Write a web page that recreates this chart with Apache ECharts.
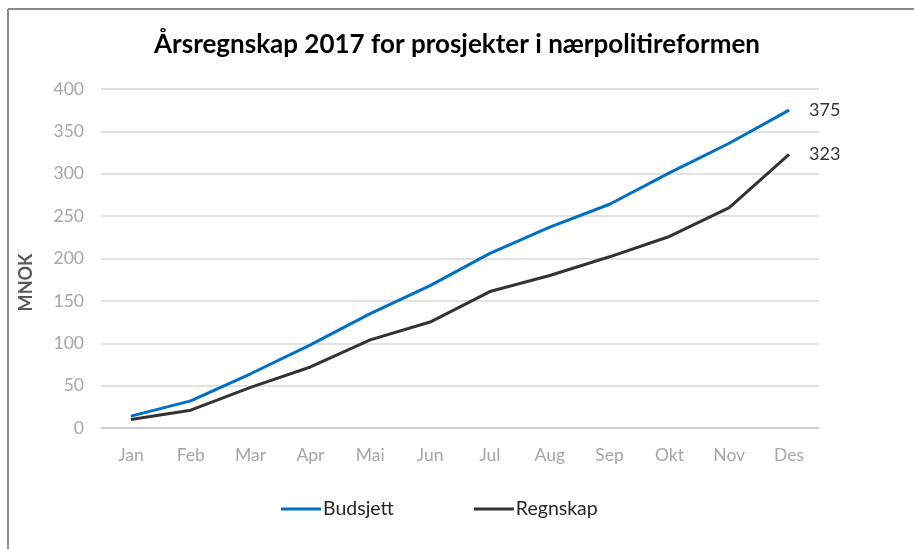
<!DOCTYPE html>
<html>
<head>
<meta charset="utf-8">
<script src="https://cdn.jsdelivr.net/npm/echarts@6/dist/echarts.min.js"></script>
<style>
  html, body { margin: 0; padding: 0; background: #fff; }
  #main { width: 914px; height: 549px; }
</style>
</head>
<body>
<div id="main"></div>
<script>
// data
var months = ['Jan', 'Feb', 'Mar', 'Apr', 'Mai', 'Jun', 'Jul', 'Aug', 'Sep', 'Okt', 'Nov', 'Des'];
var budsjett = [14, 32, 64, 98, 135, 168, 206, 237, 264, 301, 336, 375];
var regnskap = [10, 21, 48, 72, 104, 125, 161, 180, 202, 226, 260, 323];

var chart = echarts.init(document.getElementById('main'));
var font = 'Lato, "Open Sans", sans-serif';

var option = {
    animation: false,
    textStyle: { fontFamily: font },
    title: {
        text: 'Årsregnskap 2017 for prosjekter i nærpolitireformen',
        left: 'center',
        top: 27,
        textStyle: { fontSize: 26, fontWeight: 'bold', color: '#000', fontFamily: font }
    },
    grid: { left: 101, right: 95, top: 89, bottom: 121 },
    legend: {
        top: 494,
        left: 276,
        itemGap: 80,
        itemWidth: 40,
        itemHeight: 3,
        icon: 'rect',
        textStyle: { fontSize: 19.5, color: '#262626', fontFamily: font, padding: [0, 0, 0, -3] },
        data: ['Budsjett', 'Regnskap']
    },
    xAxis: {
        type: 'category',
        data: months,
        boundaryGap: true,
        axisLine: { lineStyle: { color: '#d0d0d0', width: 2 } },
        axisTick: { show: false },
        axisLabel: { color: '#a6a6a6', fontSize: 17.5, margin: 18 }
    },
    yAxis: {
        type: 'value',
        min: 0,
        max: 400,
        interval: 50,
        name: 'MNOK',
        nameLocation: 'middle',
        nameGap: 66,
        nameTextStyle: { color: '#595959', fontSize: 18, fontWeight: 'bold', padding: [0, 48, 0, 0] },
        axisLine: { show: false },
        axisTick: { show: false },
        axisLabel: { color: '#a6a6a6', fontSize: 17.5, margin: 17 },
        splitLine: { lineStyle: { color: '#d9d9d9', width: 1.5 } }
    },
    series: [
        {
            name: 'Budsjett',
            type: 'line',
            data: budsjett,
            symbol: 'none',
            color: '#0070c0',
            lineStyle: { width: 3, color: '#0070c0' },
            endLabel: {
                show: true,
                formatter: '{c}',
                distance: 20,
                color: '#333333',
                fontSize: 18
            }
        },
        {
            name: 'Regnskap',
            type: 'line',
            data: regnskap,
            symbol: 'none',
            color: '#333333',
            lineStyle: { width: 3, color: '#333333' },
            endLabel: {
                show: true,
                formatter: '{c}',
                distance: 20,
                color: '#333333',
                fontSize: 18
            }
        }
    ],
    graphic: [
        // chart frame, only top and left edges visible in the picture
        { type: 'line', shape: { x1: 8, y1: 9, x2: 914, y2: 9 }, style: { stroke: '#8a8a8a', lineWidth: 2 } },
        { type: 'line', shape: { x1: 8, y1: 9, x2: 8, y2: 549 }, style: { stroke: '#8a8a8a', lineWidth: 2 } }
    ]
};

chart.setOption(option);
</script>
</body>
</html>
